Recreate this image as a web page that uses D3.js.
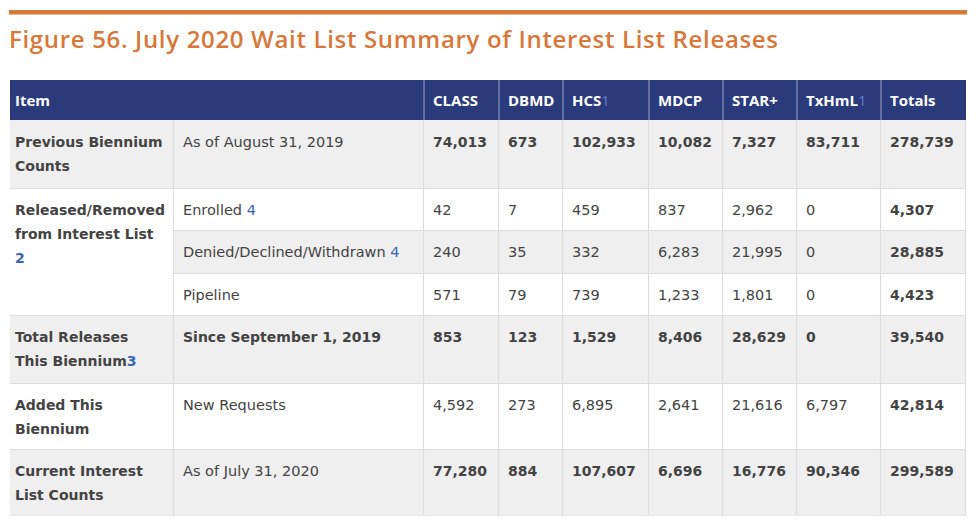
<!DOCTYPE html>
<html><head><meta charset="utf-8">
<script src="https://cdn.jsdelivr.net/npm/d3@7"></script>
<style>body{margin:0;background:#fff}svg{display:block}</style>
</head><body><svg id="c" width="980" height="525"></svg>
<script>
// ---------- data ----------
const title = "Figure 56. July 2020 Wait List Summary of Interest List Releases";
const headerItem = "Item";
const columns = ["CLASS", "DBMD", "HCS", "MDCP", "STAR+", "TxHmL", "Totals"];
const columnNotes = ["", "", "1", "", "", "1", ""];

const groupLabels = [
  ["Previous Biennium", "Counts"],
  ["Released/Removed", "from Interest List"],
  ["Total Releases", "This Biennium"],
  ["Added This", "Biennium"],
  ["Current Interest", "List Counts"]
];
const groupNotes = ["", "2", "3", "", ""];
const groupNoteOwnLine = [false, true, false, false, false];
const groupRowSpans = [1, 3, 1, 1, 1];

const rowLabels = ["As of August 31, 2019", "Enrolled", "Denied/Declined/Withdrawn", "Pipeline",
                   "Since September 1, 2019", "New Requests", "As of July 31, 2020"];
const rowNotes = ["", "4", "4", "", "", "", ""];
const rowBoldLabel = [false, false, false, false, true, false, false];
const rowBoldValues = [true, false, false, false, true, false, true];

const previousCounts = [74013, 673, 102933, 10082, 7327, 83711, 278739];
const enrolled       = [42, 7, 459, 837, 2962, 0, 4307];
const deniedDeclined = [240, 35, 332, 6283, 21995, 0, 28885];
const pipeline       = [571, 79, 739, 1233, 1801, 0, 4423];
const totalReleases  = [853, 123, 1529, 8406, 28629, 0, 39540];
const newRequests    = [4592, 273, 6895, 2641, 21616, 6797, 42814];
const currentCounts  = [77280, 884, 107607, 6696, 16776, 90346, 299589];
const rowValues = [previousCounts, enrolled, deniedDeclined, pipeline, totalReleases, newRequests, currentCounts];

// ---------- layout ----------
const colKeys = ["group", "detail"].concat(columns);
const colWidths = [164, 250, 75, 64, 86, 74, 74, 84, 85];
const tableLeft = 10;
const headerTop = 80, headerH = 40;
const rowHeights = [68, 42, 43, 42, 68, 66, 66];

const colEdges = [tableLeft];
colWidths.forEach((w, i) => colEdges.push(colEdges[i] + w));
const x = d3.scaleOrdinal().domain(colKeys).range(colEdges.slice(0, -1));
const tableRight = colEdges[colEdges.length - 1];

const rowTops = [headerTop + headerH];
rowHeights.forEach((h, i) => rowTops.push(rowTops[i] + h));
const y = d3.scaleOrdinal().domain(d3.range(rowLabels.length)).range(rowTops.slice(0, -1));
const rowBottom = rowTops[rowTops.length - 1];

const fmt = d3.format(",");
const navy = "#2b3a7b", orange = "#d8773a", grey = "#efefef", border = "#dddddd";
const txt = "#434343", blue = "#3b63b6";
const bodyFont = "'DejaVu Sans', Verdana, sans-serif";
const headFont = "'Open Sans', Lato, sans-serif";

const svg = d3.select("#c");

// orange rule + title
svg.append("rect").attr("x", 9).attr("y", 10).attr("width", 958).attr("height", 4.5).attr("fill", orange);
const t = svg.append("text").attr("x", 9).attr("y", 48)
  .attr("font-family", headFont).attr("font-weight", 600).attr("font-size", 24)
  .attr("fill", orange).text(title);
const tl = t.node().getComputedTextLength();
t.attr("letter-spacing", ((769 - tl) / (title.length - 1)).toFixed(3));

// header
svg.append("rect").attr("x", tableLeft).attr("y", headerTop).attr("width", tableRight - tableLeft)
  .attr("height", headerH).attr("fill", navy);
svg.selectAll("line.hsep").data(columns).enter().append("line")
  .attr("x1", d => x(d)).attr("x2", d => x(d)).attr("y1", headerTop).attr("y2", headerTop + headerH)
  .attr("stroke", "#9aa3c6").attr("stroke-width", 1);
const headText = (px, label, note) => {
  const tx = svg.append("text").attr("x", px).attr("y", headerTop + 26)
    .attr("font-family", headFont).attr("font-weight", 700).attr("font-size", 15)
    .attr("fill", "#ffffff").text(label);
  if (note) tx.append("tspan").attr("fill", "#5f7fcf").attr("font-weight", 400).text(note);
};
headText(x("group") + 5, headerItem, "");
columns.forEach((c, i) => headText(x(c) + 9, c, columnNotes[i]));

// body backgrounds (detail + value cells)
svg.selectAll("rect.rowbg").data(rowLabels).enter().append("rect")
  .attr("x", x("detail")).attr("y", (d, i) => y(i))
  .attr("width", tableRight - x("detail")).attr("height", (d, i) => rowHeights[i])
  .attr("fill", (d, i) => i % 2 === 0 ? grey : "#ffffff");

// group cells
const groupStart = [];
groupRowSpans.reduce((acc, s) => { groupStart.push(acc); return acc + s; }, 0);
groupLabels.forEach((lines, g) => {
  const r0 = groupStart[g], r1 = r0 + groupRowSpans[g];
  const top = y(r0), h = rowTops[r1] - top;
  svg.append("rect").attr("x", x("group")).attr("y", top).attr("width", x("detail") - x("group"))
    .attr("height", h).attr("fill", r0 % 2 === 0 && groupRowSpans[g] === 1 ? grey : "#ffffff");
});

// grid lines
svg.selectAll("line.hrow").data(d3.range(1, rowLabels.length + 1)).enter().append("line")
  .attr("x1", r => (r === 2 || r === 3) ? x("detail") : tableLeft).attr("x2", tableRight)
  .attr("y1", r => rowTops[r] + 0.5).attr("y2", r => rowTops[r] + 0.5)
  .attr("stroke", r => r === rowLabels.length ? "#e8e8e8" : border).attr("stroke-width", 1.2);
svg.selectAll("line.vcol").data(colKeys.slice(1).concat(["right"])).enter().append("line")
  .attr("x1", d => (d === "right" ? tableRight : x(d)) - 0.5)
  .attr("x2", d => (d === "right" ? tableRight : x(d)) - 0.5)
  .attr("y1", headerTop + headerH).attr("y2", rowBottom)
  .attr("stroke", border).attr("stroke-width", 1.2);

// text helpers
const lineH = 24, firstBase = 27;
function cellText(px, py, str, bold, note, noteSep) {
  const tx = svg.append("text").attr("x", px).attr("y", py)
    .attr("font-family", bodyFont).attr("font-size", bold ? 14 : 14.5)
    .attr("font-weight", bold ? 700 : 400).attr("fill", txt).text(str);
  if (note) tx.append("tspan").attr("fill", blue).text((noteSep || "") + note);
  return tx;
}

// group labels
groupLabels.forEach((lines, g) => {
  const top = y(groupStart[g]);
  lines.forEach((ln, k) => {
    const last = k === lines.length - 1;
    const note = (last && !groupNoteOwnLine[g]) ? groupNotes[g] : "";
    cellText(x("group") + 5, top + firstBase + k * lineH, ln, true, note, "");
  });
  if (groupNoteOwnLine[g] && groupNotes[g]) {
    svg.append("text").attr("x", x("group") + 5).attr("y", top + firstBase + lines.length * lineH)
      .attr("font-family", bodyFont).attr("font-size", 14).attr("font-weight", 700)
      .attr("fill", blue).text(groupNotes[g]);
  }
});

// detail labels + values
rowLabels.forEach((lab, r) => {
  const base = y(r) + firstBase;
  cellText(x("detail") + 9, base, lab, rowBoldLabel[r], rowNotes[r], " ");
  rowValues[r].forEach((v, c) => {
    const bold = rowBoldValues[r] || columns[c] === "Totals";
    cellText(x(columns[c]) + 9, base, fmt(v), bold, "", "");
  });
});
</script></body></html>
